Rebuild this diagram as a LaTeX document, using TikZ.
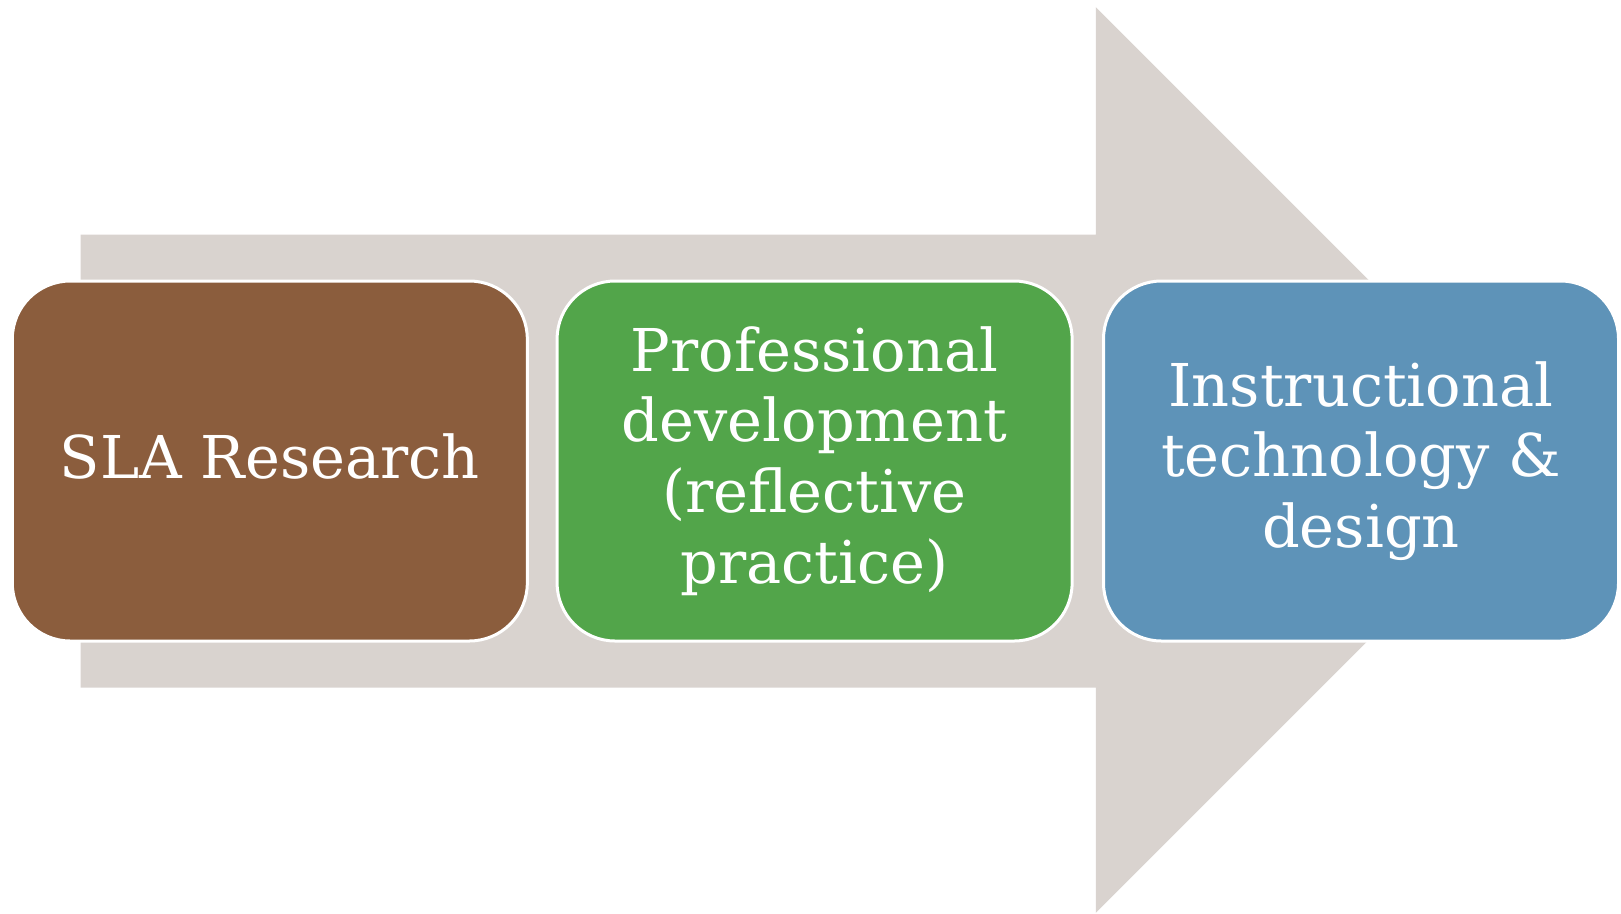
\documentclass[tikz,border=0pt]{standalone}
\usepackage{fontspec}
\setmainfont{DejaVu Serif}
\definecolor{arrowgray}{HTML}{D9D3CF}
\definecolor{boxbrown}{HTML}{8B5D3D}
\definecolor{boxgreen}{HTML}{52A54A}
\definecolor{boxblue}{HTML}{5E93B8}
\newlength\refw
\begin{document}
\settowidth{\refw}{\fontsize{100pt}{100pt}\selectfont SLA Research}%
\pgfmathsetmacro\fs{420/\refw*100}%
\def\labelfont{\fontsize{\fs pt}{70.7pt}\selectfont}%
\begin{tikzpicture}[x=1pt,y=-1pt,
  stagebox/.style={draw=white, line width=3pt, rounded corners=58pt,
    minimum width=515pt, minimum height=360pt, inner sep=0pt,
    align=center, text=white, font=\labelfont}]
\useasboundingbox (0,0) rectangle (1621,913);
\fill[arrowgray] (80.6,234.7) -- (1095.8,234.7) -- (1095.8,7.2) -- (1548.6,460)
  -- (1095.8,912.8) -- (1095.8,687.5) -- (80.6,687.5) -- cycle;
\node[stagebox, fill=boxbrown, text depth=10pt] (sla) at (269.8,461) {SLA Research};
\node[stagebox, fill=boxgreen] (pd) at (814.6,461) {Professional\\development\\(reflective\\practice)};
\node[stagebox, fill=boxblue] (it) at (1361,461) {Instructional\\technology \&\\design};
\end{tikzpicture}
\end{document}
